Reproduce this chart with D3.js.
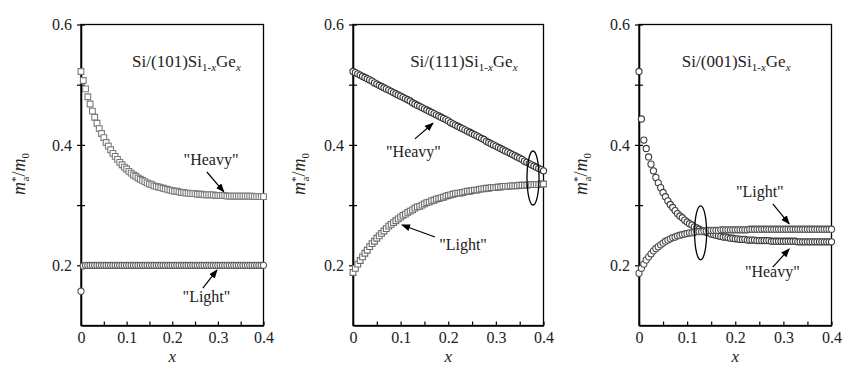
<!DOCTYPE html>
<html>
<head>
<meta charset="utf-8">
<script src="https://cdn.jsdelivr.net/npm/d3@7"></script>
<style>
body { margin: 0; background: #fff; }
svg { display: block; }
text { font-family: "Liberation Serif", "DejaVu Serif", "Noto Serif", serif; }
</style>
</head>
<body>
<svg width="845" height="370"></svg>
<script>
// effective mass vs Ge fraction x, three substrate orientations
// every series is sampled at x = 0, 0.005, ... 0.4

var xGrid = d3.range(0, 0.4001, 0.005);

var xTicks = [0, 0.05, 0.1, 0.15, 0.2, 0.25, 0.3, 0.35, 0.4];
var xTickLabels = ["0", "", "0.1", "", "0.2", "", "0.3", "", "0.4"];
var yTicks = [0.2, 0.3, 0.4, 0.5, 0.6];
var yTickLabels = ["0.2", "", "0.4", "", "0.6"];

var titles = ["(101)", "(111)", "(001)"];

// (101): heavy = squares, light = circles
var heavy101 = [0.522,0.507,0.493,0.480,0.468,0.456,0.446,0.436,0.427,0.419,
  0.412,0.404,0.398,0.392,0.386,0.381,0.376,0.371,0.367,0.363,
  0.360,0.356,0.353,0.350,0.348,0.345,0.343,0.341,0.339,0.337,
  0.335,0.334,0.332,0.331,0.330,0.329,0.328,0.327,0.326,0.325,
  0.324,0.323,0.323,0.322,0.321,0.321,0.320,0.320,0.319,0.319,
  0.319,0.318,0.318,0.318,0.317,0.317,0.317,0.317,0.317,0.316,
  0.316,0.316,0.316,0.316,0.315,0.315,0.315,0.315,0.315,0.315,
  0.315,0.315,0.315,0.315,0.315,0.315,0.314,0.314,0.314,0.314,0.314];
var light101 = [0.157,0.199,0.200,0.200,0.200,0.200,0.200,0.200,0.200,0.200,
  0.200,0.200,0.200,0.200,0.200,0.200,0.200,0.200,0.200,0.200,
  0.200,0.200,0.200,0.200,0.200,0.200,0.200,0.200,0.200,0.200,
  0.200,0.200,0.200,0.200,0.200,0.200,0.200,0.200,0.200,0.200,
  0.200,0.200,0.200,0.200,0.200,0.200,0.200,0.200,0.200,0.200,
  0.200,0.200,0.200,0.200,0.200,0.200,0.200,0.200,0.200,0.200,
  0.200,0.200,0.200,0.200,0.200,0.200,0.200,0.200,0.200,0.200,
  0.200,0.200,0.200,0.200,0.200,0.200,0.200,0.200,0.200,0.200,0.200];

// (111): heavy = circles, light = squares
var heavy111 = [0.522,0.520,0.518,0.516,0.514,0.512,0.510,0.508,0.506,0.503,
  0.501,0.499,0.497,0.495,0.493,0.491,0.489,0.487,0.485,0.483,
  0.481,0.479,0.477,0.475,0.473,0.470,0.468,0.466,0.464,0.462,
  0.460,0.458,0.456,0.454,0.452,0.450,0.448,0.446,0.444,0.442,
  0.440,0.437,0.435,0.433,0.431,0.429,0.427,0.425,0.423,0.421,
  0.419,0.417,0.415,0.413,0.411,0.409,0.406,0.404,0.402,0.400,
  0.398,0.396,0.394,0.392,0.390,0.388,0.386,0.384,0.382,0.380,
  0.378,0.376,0.373,0.371,0.369,0.367,0.365,0.363,0.361,0.359,0.357];
var light111 = [0.188,0.195,0.202,0.208,0.214,0.220,0.225,0.231,0.236,0.240,
  0.245,0.249,0.253,0.257,0.261,0.265,0.268,0.271,0.274,0.277,
  0.280,0.283,0.285,0.288,0.290,0.292,0.295,0.297,0.298,0.300,
  0.302,0.304,0.305,0.307,0.308,0.310,0.311,0.312,0.313,0.315,
  0.316,0.317,0.318,0.319,0.320,0.320,0.321,0.322,0.323,0.323,
  0.324,0.325,0.325,0.326,0.327,0.327,0.328,0.328,0.329,0.329,
  0.329,0.330,0.330,0.331,0.331,0.331,0.332,0.332,0.332,0.332,
  0.333,0.333,0.333,0.333,0.334,0.334,0.334,0.334,0.334,0.335,0.335];

// (001): both circles
var heavy001 = [0.522,0.443,0.408,0.394,0.380,0.368,0.357,0.346,0.337,0.329,
  0.321,0.314,0.307,0.301,0.296,0.291,0.286,0.282,0.279,0.275,
  0.272,0.269,0.267,0.264,0.262,0.260,0.258,0.256,0.255,0.254,
  0.252,0.251,0.250,0.249,0.248,0.247,0.247,0.246,0.245,0.245,
  0.244,0.244,0.243,0.243,0.243,0.242,0.242,0.242,0.242,0.241,
  0.241,0.241,0.241,0.241,0.241,0.240,0.240,0.240,0.240,0.240,
  0.240,0.240,0.240,0.240,0.240,0.240,0.239,0.239,0.239,0.239,
  0.239,0.239,0.239,0.239,0.239,0.239,0.239,0.239,0.239,0.239,0.239];
var light001 = [0.187,0.195,0.202,0.209,0.214,0.219,0.224,0.228,0.231,0.234,
  0.237,0.240,0.242,0.244,0.246,0.247,0.249,0.250,0.251,0.252,
  0.253,0.254,0.254,0.255,0.256,0.256,0.256,0.257,0.257,0.258,
  0.258,0.258,0.258,0.258,0.259,0.259,0.259,0.259,0.259,0.259,
  0.259,0.259,0.259,0.259,0.259,0.259,0.260,0.260,0.260,0.260,
  0.260,0.260,0.260,0.260,0.260,0.260,0.260,0.260,0.260,0.260,
  0.260,0.260,0.260,0.260,0.260,0.260,0.260,0.260,0.260,0.260,
  0.260,0.260,0.260,0.260,0.260,0.260,0.260,0.260,0.260,0.260,0.260];

var plotTop = 24.5, plotBottom = 325.5;
var serif = "'Liberation Serif', 'DejaVu Serif', serif";

var panels = [
  { left: 81, right: 263.5, ylabX: 25, title: titles[0], titleAt: [0.112, 0.529],
    series: [
      { vals: heavy101, shape: "square", color: "#7c7c7c" },
      { vals: light101, shape: "circle", color: "#5a5a5a" }],
    notes: [
      { text: "\"Heavy\"", at: [0.285, 0.367], from: [0.276, 0.355], to: [0.313, 0.322] },
      { text: "\"Light\"", at: [0.275, 0.139], from: [0.267, 0.162], to: [0.298, 0.192] }],
    ring: null },
  { left: 353, right: 543.5, ylabX: 305, title: titles[1], titleAt: [0.120, 0.529],
    series: [
      { vals: heavy111, shape: "circle", color: "#333" },
      { vals: light111, shape: "square", color: "#6c6c6c" }],
    notes: [
      { text: "\"Heavy\"", at: [0.127, 0.380], from: [0.130, 0.410], to: [0.168, 0.436] },
      { text: "\"Light\"", at: [0.231, 0.225], from: [0.172, 0.247], to: [0.103, 0.267] }],
    ring: [0.378, 0.345] },
  { left: 639, right: 831.5, ylabX: 587, title: titles[2], titleAt: [0.089, 0.529],
    series: [
      { vals: heavy001, shape: "circle", color: "#3c3c3c" },
      { vals: light001, shape: "circle", color: "#505050" }],
    notes: [
      { text: "\"Light\"", at: [0.251, 0.313], from: [0.278, 0.302], to: [0.312, 0.269] },
      { text: "\"Heavy\"", at: [0.277, 0.181], from: [0.278, 0.197], to: [0.312, 0.227] }],
    ring: [0.128, 0.254] }
];

var svg = d3.select("svg");

svg.append("defs").append("marker")
  .attr("id", "arrow")
  .attr("markerUnits", "userSpaceOnUse")
  .attr("markerWidth", 9).attr("markerHeight", 7)
  .attr("refX", 8).attr("refY", 3.5)
  .attr("orient", "auto")
  .append("path").attr("d", "M0,0 L9,3.5 L0,7 z").attr("fill", "#000");

panels.forEach(function(p) {
  var x = d3.scaleLinear().domain([0, 0.4]).range([p.left, p.right]);
  var y = d3.scaleLinear().domain([0.1, 0.6]).range([plotBottom, plotTop]);
  var g = svg.append("g");

  g.append("rect")
    .attr("x", p.left).attr("y", plotTop)
    .attr("width", p.right - p.left).attr("height", plotBottom - plotTop)
    .attr("fill", "none").attr("stroke", "#000").attr("stroke-width", 1.3);

  var xa = g.append("g").attr("transform", "translate(0," + plotBottom + ")")
    .call(d3.axisBottom(x).tickValues(xTicks).tickSizeInner(-4).tickSizeOuter(0)
      .tickPadding(6).tickFormat(function(d, i) { return xTickLabels[i]; }));
  var ya = g.append("g").attr("transform", "translate(" + p.left + ",0)")
    .call(d3.axisLeft(y).tickValues(yTicks).tickSizeInner(4).tickSizeOuter(0)
      .tickPadding(5).tickFormat(function(d, i) { return yTickLabels[i]; }));
  g.append("g").attr("transform", "translate(" + p.left + ",0)")
    .call(d3.axisRight(y).tickValues(yTicks).tickSizeInner(4).tickSizeOuter(0).tickFormat(""));
  g.selectAll(".domain").attr("stroke-width", 1.3);
  g.selectAll(".tick line").attr("stroke-width", 1.2);
  [xa, ya].forEach(function(a) {
    a.attr("font-family", serif).attr("font-size", 16);
    a.selectAll("text").attr("fill", "#222").style("font-family", serif);
  });

  // markers
  p.series.forEach(function(s) {
    var sym = s.shape === "square" ? d3.symbol(d3.symbolSquare, 33) : d3.symbol(d3.symbolCircle, 30);
    g.append("g").selectAll("path").data(s.vals).join("path")
      .attr("transform", function(d, i) { return "translate(" + x(xGrid[i]) + "," + y(d) + ")"; })
      .attr("d", sym)
      .attr("fill", "#fff").attr("stroke", s.color).attr("stroke-width", 1.1);
  });

  // title
  var t = g.append("text").attr("x", x(p.titleAt[0])).attr("y", y(p.titleAt[1]))
    .attr("font-size", 17).attr("fill", "#222").style("font-family", serif);
  t.append("tspan").text("Si/" + p.title + "Si");
  t.append("tspan").attr("dy", 4).attr("font-size", 11).text("1-");
  t.append("tspan").attr("font-size", 11).attr("font-style", "italic").text("x");
  t.append("tspan").attr("dy", -4).text("Ge");
  t.append("tspan").attr("dy", 4).attr("font-size", 11).attr("font-style", "italic").text("x");

  // annotations
  p.notes.forEach(function(n) {
    g.append("text").attr("x", x(n.at[0])).attr("y", y(n.at[1]))
      .attr("text-anchor", "middle").attr("font-size", 16).attr("fill", "#222")
      .style("font-family", serif).text(n.text);
    g.append("line")
      .attr("x1", x(n.from[0])).attr("y1", y(n.from[1]))
      .attr("x2", x(n.to[0])).attr("y2", y(n.to[1]))
      .attr("stroke", "#000").attr("stroke-width", 1.2)
      .attr("marker-end", "url(#arrow)");
  });
  if (p.ring) {
    g.append("ellipse").attr("cx", x(p.ring[0])).attr("cy", y(p.ring[1]))
      .attr("rx", 6).attr("ry", 27)
      .attr("fill", "none").attr("stroke", "#000").attr("stroke-width", 1.3);
  }

  // axis titles
  g.append("text").attr("x", (p.left + p.right) / 2).attr("y", 362)
    .attr("text-anchor", "middle").attr("font-size", 17).attr("font-style", "italic")
    .attr("fill", "#222").style("font-family", serif).text("x");
  var yl = g.append("text").attr("transform", "translate(" + p.ylabX + ",174) rotate(-90)")
    .attr("text-anchor", "middle").attr("font-size", 18).attr("fill", "#222")
    .style("font-family", serif);
  yl.append("tspan").attr("font-style", "italic").text("m");
  yl.append("tspan").attr("dy", -6).attr("font-size", 11).text("*");
  yl.append("tspan").attr("dy", 10).attr("dx", -5).attr("font-size", 11).text("a");
  yl.append("tspan").attr("dy", -4).text("/");
  yl.append("tspan").attr("font-style", "italic").text("m");
  yl.append("tspan").attr("dy", 4).attr("font-size", 11).text("0");
});
</script>
</body>
</html>
